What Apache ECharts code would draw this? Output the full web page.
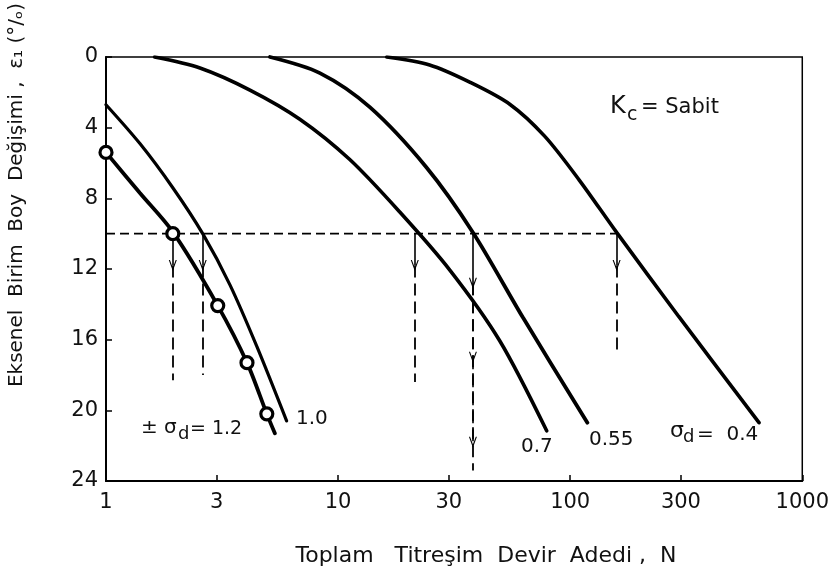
<!DOCTYPE html>
<html>
<head>
<meta charset="utf-8">
<script src="https://cdn.jsdelivr.net/npm/echarts@6/dist/echarts.min.js"></script>
<style>
  html, body { margin: 0; padding: 0; background: #fff; }
  #chart { width: 832px; height: 577px; }
</style>
</head>
<body>
<div id="chart"></div>
<script>
// tick labels on the log axis
const xTicks = [1, 3, 10, 30, 100, 300, 1000];

// curves: [N, strain %]
const curve12 = [[1.0, 5.4], [1.4, 7.7], [1.94, 9.9], [3.03, 14.07], [4.05, 17.3], [4.93, 20.2], [5.34, 21.3]];
const curve12Points = [[1.0, 5.4], [1.94, 10.0], [3.03, 14.07], [4.05, 17.3], [4.93, 20.2]];
const curve10 = [[1.0, 2.7], [1.4, 4.9], [1.94, 7.4], [2.61, 10.0], [3.42, 12.9], [4.47, 16.4], [6.0, 20.6]];
const curve07 = [[1.62, 0], [2.54, 0.62], [4.17, 1.87], [6.84, 3.52], [11.2, 5.79], [18.4, 8.76], [30.3, 12.06], [49.7, 16.06], [79.2, 21.16]];
const curve055 = [[5.09, 0], [8.35, 0.91], [13.7, 2.84], [24.0, 6.24], [38.1, 9.93], [62.6, 14.75], [118.6, 20.7]];
const curve04 = [[16.2, 0], [24.8, 0.45], [36.9, 1.42], [54.9, 2.67], [77.6, 4.48], [109.6, 6.98], [158.5, 9.93], [294, 14.7], [651, 20.7]];

// dashed reading lines
const levelY = 10;
const levelLine = [[1, 10], [158.5, 10]];
const dropN = [1.94, 2.61, 21.4, 38.1, 158.5];
const dropTip = [11.8, 11.8, 11.8, 12.8, 11.8];
const dropEnd = [18.3, 18.0, 18.4, 23.4, 16.6];
const extraArrows = [[38.1, 12.8, 17.0], [38.1, 17.0, 21.8]];

const chart = echarts.init(document.getElementById('chart'));
const font = 'DejaVu Sans';
const arrowPath = 'path://M5,0L10,10L8.6,10L5,3L1.4,10L0,10Z';

const curveSeries = (data, w) => ({
  type: 'line',
  data: data,
  smooth: 0.3,
  showSymbol: false,
  silent: true,
  lineStyle: { color: '#000', width: w, cap: 'round' },
  z: 3
});

const markData = [];
dropN.forEach((n, i) => {
  markData.push([
    { coord: [n, levelY], symbol: 'none', lineStyle: { type: 'solid', width: 1.6, color: '#000' } },
    { coord: [n, dropTip[i]], symbol: arrowPath }
  ]);
  markData.push([
    { coord: [n, dropTip[i]], symbol: 'none', lineStyle: { type: [12, 6], width: 1.8, color: '#000' } },
    { coord: [n, dropEnd[i]], symbol: 'none' }
  ]);
});
extraArrows.forEach(a => {
  markData.push([
    { coord: [a[0], a[1]], symbol: 'none', lineStyle: { type: [12, 6], width: 1.6, color: '#000' } },
    { coord: [a[0], a[2]], symbol: arrowPath }
  ]);
});

const txt = (x, y, s, size, align) => ({
  type: 'text', x: x, y: y,
  style: { text: s, font: size + 'px ' + font, fill: '#111', textAlign: align || 'left', textVerticalAlign: 'middle' }
});

chart.setOption({
  animation: false,
  backgroundColor: '#fff',
  grid: { left: 106, right: 29, top: 57, bottom: 96, show: true, borderColor: '#000', borderWidth: 1.5 },
  xAxis: {
    type: 'log',
    logBase: 10,
    min: 1,
    max: 1000,
    axisLine: { onZero: false, lineStyle: { color: '#000', width: 2 } },
    axisTick: { inside: true, length: 6, customValues: xTicks, lineStyle: { color: '#000', width: 1.5 } },
    axisLabel: { customValues: xTicks, formatter: v => String(v), color: '#111', fontSize: 21, fontFamily: font, margin: 11 },
    minorTick: { show: false },
    splitLine: { show: false }
  },
  yAxis: {
    type: 'value',
    inverse: true,
    min: 0,
    max: 24,
    interval: 4,
    axisLine: { onZero: false, lineStyle: { color: '#000', width: 2 } },
    axisTick: { inside: true, length: 6, lineStyle: { color: '#000', width: 1.5 } },
    axisLabel: { color: '#111', fontSize: 21, fontFamily: font, margin: 8 },
    splitLine: { show: false }
  },
  series: [
    curveSeries(curve12, 3.8),
    curveSeries(curve10, 3.2),
    curveSeries(curve07, 3.6),
    curveSeries(curve055, 3.8),
    curveSeries(curve04, 3.6),
    {
      type: 'scatter',
      data: curve12Points,
      symbol: 'circle',
      symbolSize: 12,
      silent: true,
      itemStyle: { color: '#fff', borderColor: '#000', borderWidth: 3.2, opacity: 1 },
      z: 5
    },
    {
      type: 'line',
      data: levelLine,
      showSymbol: false,
      silent: true,
      lineStyle: { color: '#000', width: 1.8, type: [9, 5] },
      z: 2,
      markLine: {
        silent: true,
        animation: false,
        symbolSize: [8, 11],
        label: { show: false },
        data: markData
      }
    }
  ],
  graphic: [
    txt(610, 107, 'K', 24),
    txt(627, 115, 'c', 19),
    txt(641, 108, '= Sabit', 21),
    txt(141, 428, '± σ', 20),
    txt(178, 434, 'd', 18),
    txt(190, 429, '= 1.2', 19),
    txt(296, 419, '1.0', 20),
    txt(521, 447, '0.7', 20),
    txt(589, 440, '0.55', 20),
    txt(670, 431, 'σ', 22),
    txt(683, 437, 'd', 18),
    txt(697, 435, '=  0.4', 20),
    txt(486, 556, 'Toplam   Titreşim  Devir  Adedi ,  N', 22, 'center'),
    {
      type: 'text', x: 17, y: 195, rotation: Math.PI / 2,
      style: { text: 'Eksenel  Birim  Boy  Değişimi ,  ε₁ (°/ₒ)', font: '20px ' + font, fill: '#111', textAlign: 'center', textVerticalAlign: 'middle' }
    }
  ]
});
</script>
</body>
</html>
